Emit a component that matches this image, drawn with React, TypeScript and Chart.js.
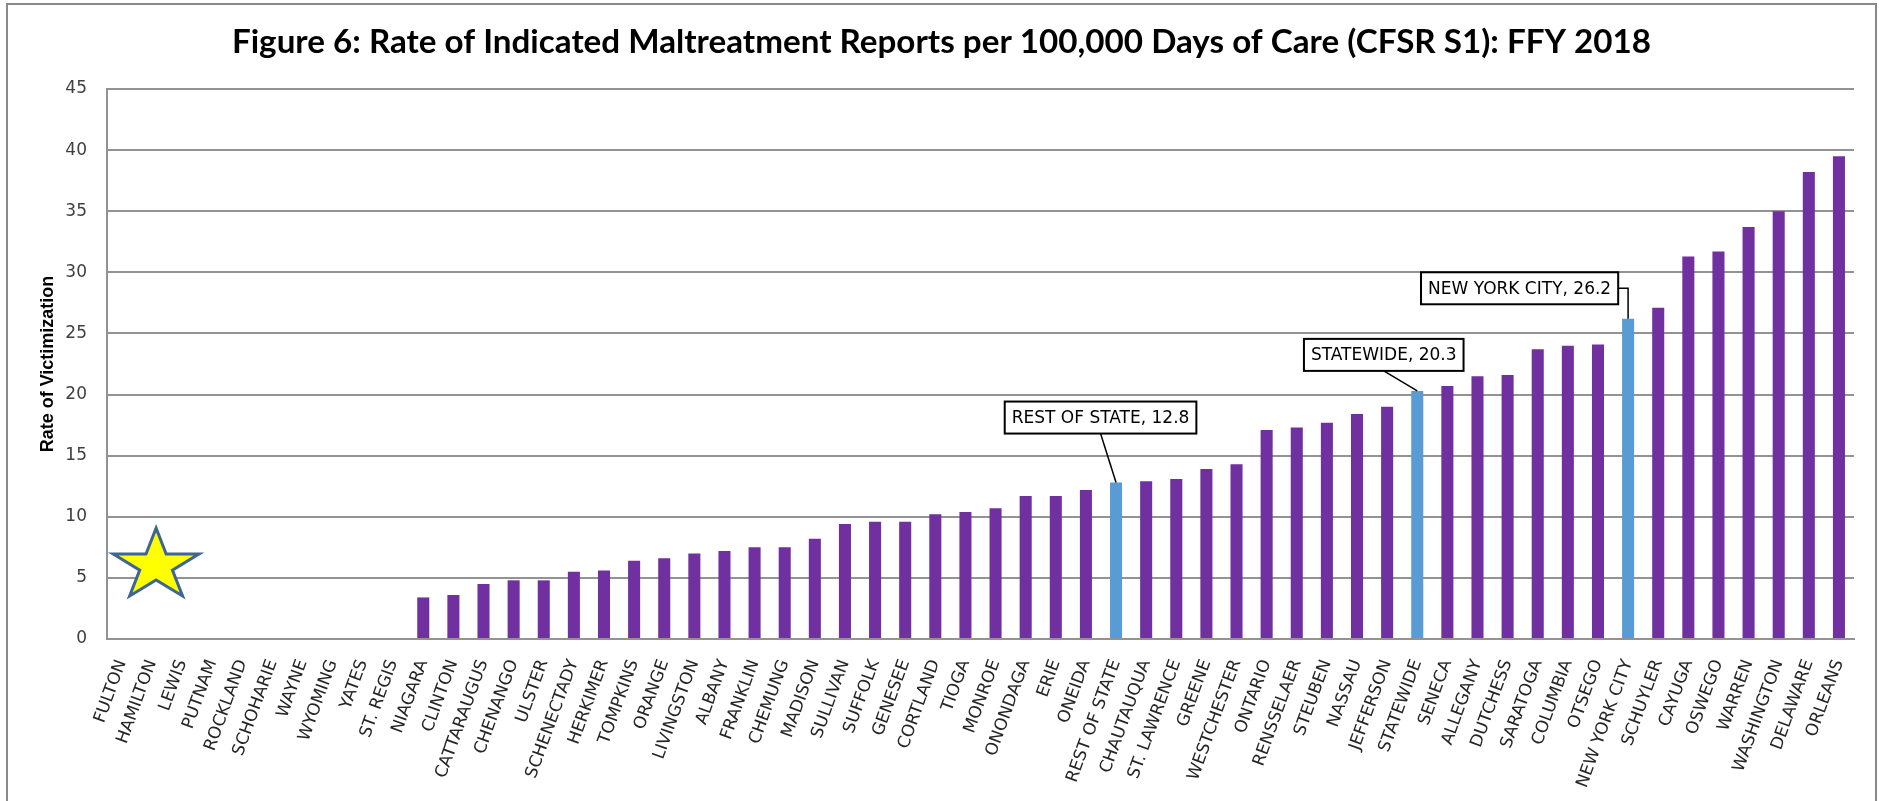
import React, { useEffect, useRef } from "react";
import { Chart, registerables } from "chart.js";

Chart.register(...registerables);

const titleText =
  "Figure 6: Rate of Indicated Maltreatment Reports per 100,000 Days of Care (CFSR S1): FFY 2018";
const yAxisTitle = "Rate of Victimization";

const categories = [
  "FULTON", "HAMILTON", "LEWIS", "PUTNAM", "ROCKLAND", "SCHOHARIE", "WAYNE", "WYOMING", "YATES", "ST. REGIS",
  "NIAGARA", "CLINTON", "CATTARAUGUS", "CHENANGO", "ULSTER", "SCHENECTADY", "HERKIMER", "TOMPKINS", "ORANGE",
  "LIVINGSTON", "ALBANY", "FRANKLIN", "CHEMUNG", "MADISON", "SULLIVAN", "SUFFOLK", "GENESEE", "CORTLAND",
  "TIOGA", "MONROE", "ONONDAGA", "ERIE", "ONEIDA", "REST OF STATE", "CHAUTAUQUA", "ST. LAWRENCE", "GREENE",
  "WESTCHESTER", "ONTARIO", "RENSSELAER", "STEUBEN", "NASSAU", "JEFFERSON", "STATEWIDE", "SENECA", "ALLEGANY",
  "DUTCHESS", "SARATOGA", "COLUMBIA", "OTSEGO", "NEW YORK CITY", "SCHUYLER", "CAYUGA", "OSWEGO", "WARREN",
  "WASHINGTON", "DELAWARE", "ORLEANS",
];

const values = [
  0, 0, 0, 0, 0, 0, 0, 0, 0, 0,
  3.4, 3.6, 4.5, 4.8, 4.8, 5.5, 5.6, 6.4, 6.6,
  7.0, 7.2, 7.5, 7.5, 8.2, 9.4, 9.6, 9.6, 10.2,
  10.4, 10.7, 11.7, 11.7, 12.2, 12.8, 12.9, 13.1, 13.9,
  14.3, 17.1, 17.3, 17.7, 18.4, 19.0, 20.3, 20.7, 21.5,
  21.6, 23.7, 24.0, 24.1, 26.2, 27.1, 31.3, 31.7, 33.7,
  35.0, 38.2, 39.5,
];

const highlighted = ["REST OF STATE", "STATEWIDE", "NEW YORK CITY"];

const yMin = 0;
const yMax = 45;
const yStep = 5;

const calloutCategories = ["REST OF STATE", "STATEWIDE", "NEW YORK CITY"];
const calloutOffsetsX = [-15.5, -33.5, -108.5];
const calloutOffsetsY = [-65, -36, -30.5];
const calloutLeaders = ["straight", "straight", "elbow"];

const starCategoryPosition = 1.13;
const starValue = 6.0;

const PURPLE = "#7030A0";
const BLUE = "#5B9BD5";
const GRID = "#939393";
const LABEL_FONT = "DejaVu Sans";

const decorations = {
  id: "decorations",
  beforeDraw(chart: any) {
    const { ctx, width, height } = chart;
    ctx.save();
    ctx.fillStyle = "#ffffff";
    ctx.fillRect(0, 0, width, height);
    ctx.strokeStyle = "#8a8a8a";
    ctx.lineWidth = 2;
    ctx.strokeRect(7, 4, width - 10, height + 20);

    // title fitted to the reference width
    let size = 30;
    ctx.font = `bold ${size}px Lato`;
    const w = ctx.measureText(titleText).width;
    size = (size * 1420) / w;
    ctx.font = `bold ${size}px Lato`;
    ctx.fillStyle = "#000000";
    ctx.textAlign = "center";
    ctx.textBaseline = "alphabetic";
    ctx.fillText(titleText, width / 2 + 2, 53);
    ctx.restore();
  },
  afterDatasetsDraw(chart: any) {
    const { ctx } = chart;
    const xs = chart.scales.x;
    const ys = chart.scales.y;
    const meta = chart.getDatasetMeta(0);

    // star
    const cx = xs.getPixelForValue(starCategoryPosition);
    const cy = ys.getPixelForValue(starValue);
    const rx = 45;
    const ry = 37.5;
    const inner = 0.382;
    ctx.save();
    ctx.beginPath();
    for (let i = 0; i < 10; i++) {
      const a = -Math.PI / 2 + (i * Math.PI) / 5;
      const f = i % 2 === 0 ? 1 : inner;
      const px = cx + Math.cos(a) * rx * f;
      const py = cy + Math.sin(a) * ry * f;
      if (i === 0) ctx.moveTo(px, py);
      else ctx.lineTo(px, py);
    }
    ctx.closePath();
    ctx.fillStyle = "#FFFF00";
    ctx.fill();
    ctx.lineWidth = 3;
    ctx.lineJoin = "miter";
    ctx.strokeStyle = "#3F6592";
    ctx.stroke();
    ctx.restore();

    // callouts
    ctx.save();
    ctx.font = `17px "${LABEL_FONT}"`;
    calloutCategories.forEach((cat, k) => {
      const idx = categories.indexOf(cat);
      const el = meta.data[idx];
      const bx = el.x;
      const by = el.y;
      const text = `${cat}, ${values[idx].toFixed(1)}`;
      const tw = ctx.measureText(text).width;
      const bw = tw + 14;
      const bh = 32;
      const ccx = bx + calloutOffsetsX[k];
      const ccy = by + calloutOffsetsY[k];
      const left = ccx - bw / 2;
      const top = ccy - bh / 2;

      ctx.strokeStyle = "#000000";
      ctx.lineWidth = 1.5;
      ctx.beginPath();
      if (calloutLeaders[k] === "elbow") {
        ctx.moveTo(left + bw, ccy);
        ctx.lineTo(bx, ccy);
        ctx.lineTo(bx, by);
      } else {
        ctx.moveTo(ccx, top + bh);
        ctx.lineTo(bx, by);
      }
      ctx.stroke();

      ctx.fillStyle = "#ffffff";
      ctx.fillRect(left, top, bw, bh);
      ctx.lineWidth = 2;
      ctx.strokeRect(left, top, bw, bh);
      ctx.fillStyle = "#000000";
      ctx.textAlign = "center";
      ctx.textBaseline = "middle";
      ctx.fillText(text, ccx, ccy + 1);
    });
    ctx.restore();
  },
};

export default function App() {
  const canvasRef = useRef<HTMLCanvasElement | null>(null);

  useEffect(() => {
    document.body.style.margin = "0";
    document.body.style.overflow = "hidden";
    const canvas = canvasRef.current;
    if (!canvas) return;
    const colors = categories.map((c) => (highlighted.includes(c) ? BLUE : PURPLE));
    const chart = new Chart(canvas, {
      type: "bar",
      data: {
        labels: categories,
        datasets: [
          {
            data: values,
            backgroundColor: colors,
            borderWidth: 0,
            barPercentage: 0.4,
            categoryPercentage: 1.0,
          },
        ],
      },
      options: {
        responsive: false,
        animation: false,
        layout: { padding: { left: 0, right: 25, top: 89, bottom: 0 } },
        plugins: {
          legend: { display: false },
          title: { display: false },
          tooltip: { enabled: false },
        },
        scales: {
          x: {
            grid: { display: false, drawTicks: false },
            border: { display: true, color: GRID, width: 2 },
            ticks: {
              autoSkip: false,
              maxRotation: 70,
              minRotation: 70,
              padding: 18,
              color: "#262626",
              font: { family: LABEL_FONT, size: 17 },
            },
            afterFit: (s: any) => {
              s.height = 162;
            },
          },
          y: {
            min: yMin,
            max: yMax,
            ticks: {
              stepSize: yStep,
              padding: 20,
              color: "#404040",
              font: { family: LABEL_FONT, size: 17 },
            },
            grid: { color: GRID, lineWidth: 2, drawTicks: false },
            border: { display: true, color: GRID, width: 2 },
            title: {
              display: true,
              text: yAxisTitle,
              color: "#000000",
              font: { family: "Liberation Sans", weight: "bold", size: 18 },
              padding: { top: 37, bottom: 0 },
            },
            afterFit: (s: any) => {
              s.width = 107;
            },
          },
        },
      },
      plugins: [decorations],
    } as any);
    return () => chart.destroy();
  }, []);

  return (
    <div style={{ width: 1879, height: 801, position: "relative" }}>
      <canvas ref={canvasRef} width={1879} height={801} style={{ width: 1879, height: 801, display: "block" }} />
    </div>
  );
}
